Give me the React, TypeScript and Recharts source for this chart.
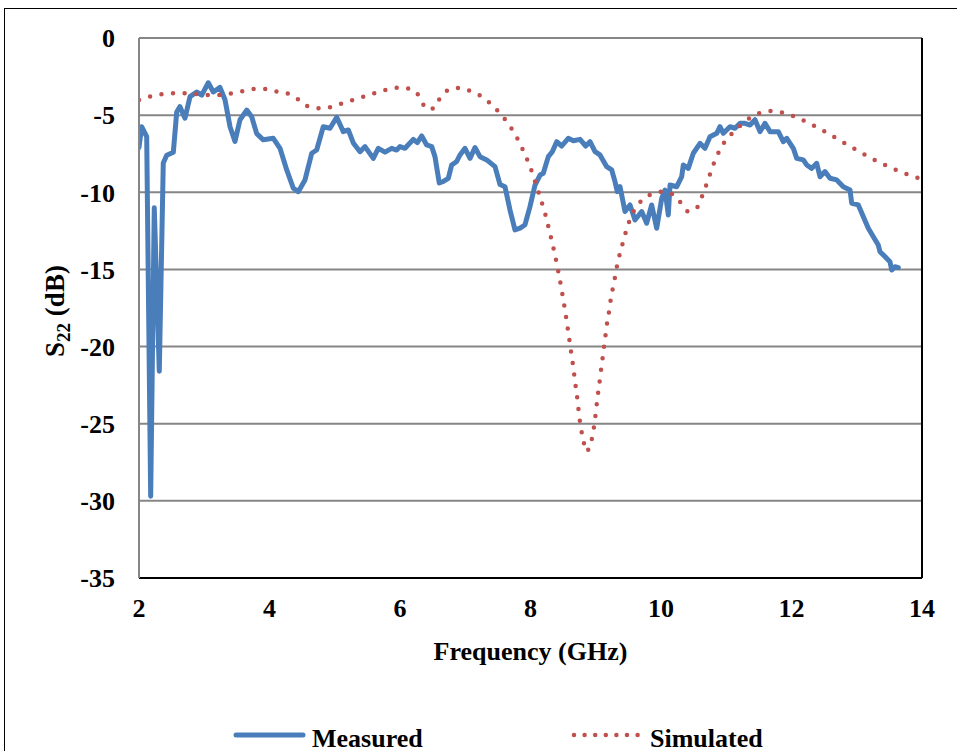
import React from 'react';
import { LineChart, Line, XAxis, YAxis, CartesianGrid, ReferenceLine, Label } from 'recharts';

// Measured S22 trace (frequency in GHz, magnitude in dB)
const measuredFreq = [
  2.0, 2.041, 2.118, 2.179, 2.234, 2.311, 2.372, 2.425, 2.526, 2.578,
  2.628, 2.705, 2.782, 2.884, 2.961, 3.062, 3.139, 3.241, 3.318, 3.395,
  3.471, 3.548, 3.651, 3.727, 3.804, 3.905, 4.058, 4.161, 4.264, 4.365,
  4.441, 4.544, 4.647, 4.723, 4.824, 4.927, 5.03, 5.131, 5.208, 5.284,
  5.387, 5.464, 5.591, 5.667, 5.77, 5.873, 5.949, 6.0, 6.077, 6.204,
  6.265, 6.333, 6.409, 6.486, 6.536, 6.602, 6.664, 6.74, 6.792, 6.869,
  6.92, 6.996, 7.073, 7.149, 7.226, 7.329, 7.456, 7.533, 7.609, 7.686,
  7.762, 7.839, 7.916, 7.992, 8.069, 8.146, 8.196, 8.273, 8.334, 8.402,
  8.478, 8.579, 8.656, 8.759, 8.846, 8.912, 8.989, 9.065, 9.168, 9.244,
  9.295, 9.33, 9.372, 9.448, 9.525, 9.601, 9.704, 9.781, 9.857, 9.934,
  10.011, 10.061, 10.112, 10.138, 10.241, 10.317, 10.342, 10.418, 10.495, 10.598,
  10.674, 10.751, 10.854, 10.904, 10.955, 11.057, 11.134, 11.211, 11.287, 11.364,
  11.441, 11.517, 11.594, 11.671, 11.798, 11.874, 11.927, 12.028, 12.08, 12.181,
  12.233, 12.31, 12.386, 12.437, 12.513, 12.59, 12.693, 12.794, 12.897, 12.923,
  13.024, 13.101, 13.177, 13.254, 13.33, 13.356, 13.433, 13.509, 13.536, 13.586,
  13.637,
];
const measuredS22 = [
  -7.1, -5.75, -6.4, -29.7, -11.0, -21.6, -8.1, -7.6, -7.4, -4.8,
  -4.45, -5.2, -3.8, -3.5, -3.7, -2.9, -3.5, -3.2, -4.0, -5.75,
  -6.7, -5.3, -4.67, -5.1, -6.2, -6.6, -6.5, -7.15, -8.55, -9.74,
  -9.96, -9.2, -7.47, -7.26, -5.75, -5.85, -5.14, -6.07, -5.96, -6.8,
  -7.37, -7.04, -7.8, -7.15, -7.4, -7.15, -7.26, -7.04, -7.15, -6.57,
  -6.78, -6.35, -6.93, -7.04, -7.69, -9.4, -9.3, -9.1, -8.23, -8.0,
  -7.58, -7.15, -7.8, -7.1, -7.69, -7.9, -8.34, -9.5, -9.64, -11.15,
  -12.44, -12.33, -12.1, -10.93, -9.53, -8.88, -8.77, -7.69, -7.37, -6.72,
  -7.0, -6.5, -6.66, -6.57, -7.0, -6.72, -7.37, -7.58, -8.34, -8.55,
  -9.31, -9.96, -9.64, -11.25, -10.82, -11.8, -11.25, -12.0, -10.82, -12.33,
  -10.39, -9.85, -11.47, -9.53, -9.64, -8.99, -8.23, -8.45, -7.47, -6.83,
  -7.15, -6.4, -6.18, -5.75, -6.18, -5.75, -5.85, -5.53, -5.53, -5.64,
  -5.3, -6.07, -5.53, -6.07, -6.07, -6.72, -6.5, -7.15, -7.8, -7.9,
  -8.23, -8.45, -8.12, -8.99, -8.66, -9.09, -9.2, -9.64, -9.85, -10.71,
  -10.82, -11.58, -12.33, -12.88, -13.42, -13.85, -14.17, -14.5, -15.04, -14.82,
  -14.88,
];

// Simulated S22 trace
const simulatedFreq = [
  2.0, 2.169, 2.348, 2.526, 2.705, 2.884, 3.073, 3.252, 3.436, 3.614,
  3.793, 3.972, 4.146, 4.319, 4.467, 4.621, 4.8, 4.973, 5.146, 5.321,
  5.49, 5.667, 5.836, 6.015, 6.188, 6.317, 6.398, 6.521, 6.613, 6.746,
  6.92, 7.088, 7.252, 7.395, 7.517, 7.635, 7.736, 7.824, 7.9, 7.972,
  8.034, 8.089, 8.146, 8.196, 8.248, 8.288, 8.33, 8.371, 8.406, 8.441,
  8.472, 8.503, 8.533, 8.559, 8.585, 8.61, 8.636, 8.662, 8.682, 8.708,
  8.728, 8.748, 8.774, 8.81, 8.851, 8.928, 8.963, 8.989, 9.009, 9.03,
  9.055, 9.076, 9.1, 9.122, 9.146, 9.168, 9.198, 9.223, 9.254, 9.29,
  9.321, 9.361, 9.407, 9.453, 9.51, 9.582, 9.689, 9.836, 10.005, 10.173,
  10.299, 10.418, 10.556, 10.628, 10.69, 10.751, 10.812, 10.884, 10.97, 11.088,
  11.221, 11.364, 11.528, 11.706, 11.885, 12.054, 12.218, 12.38, 12.544, 12.697,
  12.851, 13.008, 13.168, 13.326, 13.489, 13.652, 13.827, 14.0,
];
const simulatedS22 = [
  -4.02, -3.8, -3.65, -3.58, -3.58, -3.63, -3.69, -3.69, -3.58, -3.43,
  -3.3, -3.3, -3.52, -3.65, -4.06, -4.49, -4.56, -4.45, -4.19, -3.97,
  -3.74, -3.5, -3.3, -3.2, -3.37, -3.91, -4.58, -4.56, -3.89, -3.37,
  -3.24, -3.46, -3.8, -4.28, -4.82, -5.42, -6.05, -6.72, -7.41, -8.12,
  -8.83, -9.57, -10.28, -10.99, -11.75, -12.49, -13.22, -13.98, -14.71, -15.47,
  -16.2, -16.98, -17.74, -18.49, -19.23, -20.0, -20.76, -21.52, -22.27, -23.03,
  -23.78, -24.54, -25.3, -26.05, -26.81, -26.2, -25.47, -24.71, -23.96, -23.2,
  -22.42, -21.67, -20.91, -20.16, -19.4, -18.64, -17.89, -17.13, -16.38, -15.62,
  -14.88, -14.13, -13.39, -12.68, -11.92, -11.23, -10.6, -10.15, -9.96, -10.12,
  -10.66, -11.25, -10.97, -10.28, -9.57, -8.83, -8.1, -7.41, -6.76, -6.18,
  -5.66, -5.18, -4.84, -4.73, -4.86, -5.1, -5.42, -5.77, -6.14, -6.53,
  -6.91, -7.28, -7.67, -8.01, -8.34, -8.64, -8.92, -9.16,
];

const xTicks = [2, 4, 6, 8, 10, 12, 14];
const yTicks = [0, -5, -10, -15, -20, -25, -30, -35];

const seriesNames = ['Measured', 'Simulated'];

const measuredData = measuredFreq.map((f, i) => ({ f, v: measuredS22[i] }));
const simulatedData = simulatedFreq.map((f, i) => ({ f, v: simulatedS22[i] }));

const BLUE = '#4a7ebb';
const RED = '#c0504d';
const GRID = '#868686';
const FONT = '"Liberation Serif", "Times New Roman", serif';

const tickStyle = { fill: '#000', fontSize: 26, fontWeight: 700, fontFamily: FONT };

const XTitle = (props: any) => {
  const vb = props.viewBox || { x: 139, y: 578, width: 783 };
  return (
    <text
      x={vb.x + vb.width / 2}
      y={vb.y + 82}
      textAnchor="middle"
      fontSize={26}
      fontWeight={700}
      fontFamily={FONT}
      fill="#000"
    >
      Frequency (GHz)
    </text>
  );
};

const YTitle = (props: any) => {
  const vb = props.viewBox || { x: 0, y: 38, width: 139, height: 540 };
  const cx = vb.x + 64;
  const cy = vb.y + vb.height / 2 + 3;
  return (
    <text
      x={cx}
      y={cy}
      transform={`rotate(-90, ${cx}, ${cy})`}
      textAnchor="middle"
      fontSize={27}
      fontWeight={700}
      fontFamily={FONT}
      fill="#000"
    >
      <tspan>S</tspan>
      <tspan dy={6} fontSize={19}>22</tspan>
      <tspan dy={-6}> (dB)</tspan>
    </text>
  );
};

export default function App() {
  return (
    <div
      style={{
        position: 'absolute',
        left: 0,
        top: 0,
        width: 957,
        height: 751,
        overflow: 'hidden',
        background: '#fff',
      }}
    >
      <div
        style={{
          position: 'absolute',
          left: 4,
          top: 8,
          width: 1100,
          height: 1100,
          border: '1px solid #000',
        }}
      />
      <LineChart
        width={957}
        height={751}
        margin={{ top: 38, right: 35, bottom: 0, left: 0 }}
        style={{ position: 'absolute', left: 0, top: 0 }}
      >
        <CartesianGrid vertical={false} stroke={GRID} strokeWidth={2} />
        <XAxis
          dataKey="f"
          type="number"
          domain={[2, 14]}
          ticks={xTicks}
          allowDataOverflow
          height={173}
          tickSize={0}
          tickMargin={21}
          tickLine={false}
          axisLine={{ stroke: '#000', strokeWidth: 2 }}
          tick={tickStyle}
        >
          <Label content={<XTitle />} />
        </XAxis>
        <YAxis
          type="number"
          domain={[-35, 0]}
          ticks={yTicks}
          allowDataOverflow
          width={139}
          tickSize={0}
          tickMargin={24}
          tickLine={false}
          axisLine={{ stroke: GRID, strokeWidth: 2 }}
          tick={tickStyle}
        >
          <Label content={<YTitle />} />
        </YAxis>
        <ReferenceLine x={14} stroke="#000" strokeWidth={2} />
        <Line
          data={measuredData}
          dataKey="v"
          name={seriesNames[0]}
          type="linear"
          stroke={BLUE}
          strokeWidth={5}
          strokeLinejoin="round"
          strokeLinecap="round"
          dot={false}
          activeDot={false}
          isAnimationActive={false}
        />
        <Line
          data={simulatedData}
          dataKey="v"
          name={seriesNames[1]}
          type="monotone"
          stroke={RED}
          strokeWidth={4.5}
          strokeDasharray="0 11.6"
          strokeLinecap="round"
          dot={false}
          activeDot={false}
          isAnimationActive={false}
        />
      </LineChart>
      <svg
        width={957}
        height={751}
        style={{ position: 'absolute', left: 0, top: 0, pointerEvents: 'none' }}
      >
        <line x1={236} y1={735} x2={303} y2={735} stroke={BLUE} strokeWidth={5} strokeLinecap="round" />
        <text x={312} y={747} fontSize={26} fontWeight={700} fontFamily={FONT} fill="#000">
          {seriesNames[0]}
        </text>
        <line
          x1={574}
          y1={735}
          x2={638}
          y2={735}
          stroke={RED}
          strokeWidth={4.5}
          strokeDasharray="0 10.6"
          strokeLinecap="round"
        />
        <text x={650} y={747} fontSize={26} fontWeight={700} fontFamily={FONT} fill="#000">
          {seriesNames[1]}
        </text>
      </svg>
    </div>
  );
}
